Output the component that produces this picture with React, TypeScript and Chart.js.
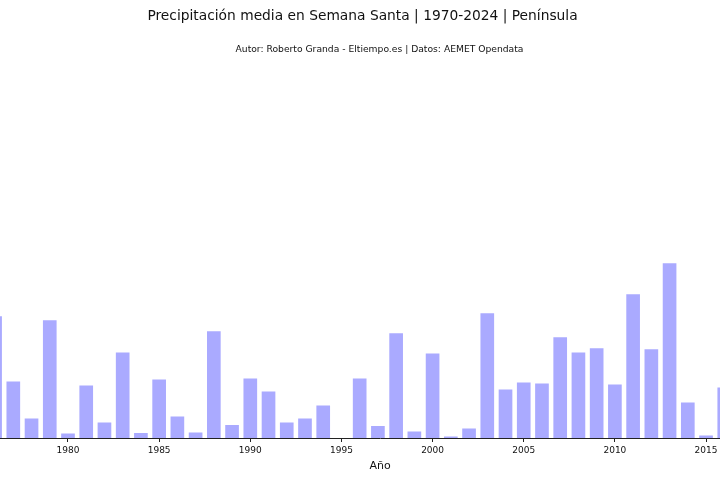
import React, { useEffect, useRef } from "react";
import { Chart, registerables } from "chart.js";

Chart.register(...registerables);

const TITLE = "Precipitación media en Semana Santa | 1970-2024 | Península";
const SUBTITLE = "Autor: Roberto Granda - Eltiempo.es | Datos: AEMET Opendata";
const X_TITLE = "Año";

const years = [
  1976, 1977, 1978, 1979, 1980, 1981, 1982, 1983, 1984, 1985,
  1986, 1987, 1988, 1989, 1990, 1991, 1992, 1993, 1994, 1995,
  1996, 1997, 1998, 1999, 2000, 2001, 2002, 2003, 2004, 2005,
  2006, 2007, 2008, 2009, 2010, 2011, 2012, 2013, 2014, 2015,
  2016,
];

const precipitation = [
  24.3, 11.3, 3.9, 23.5, 0.9, 10.5, 3.1, 17.1, 1.0, 11.7,
  4.3, 1.1, 21.3, 2.6, 11.9, 9.3, 3.1, 3.9, 6.5, 0.0,
  11.9, 2.4, 20.9, 1.3, 16.9, 0.3, 1.9, 24.9, 9.7, 11.1,
  10.9, 20.1, 17.1, 17.9, 10.7, 28.7, 17.7, 34.9, 7.1, 0.5,
  10.1,
];

const tickYears = [1980, 1985, 1990, 1995, 2000, 2005, 2010, 2015];

const FONT = "'DejaVu Sans', sans-serif";

const headerPlugin = {
  id: "header",
  afterDraw(chart: any) {
    const ctx = chart.ctx;
    ctx.save();
    ctx.fillStyle = "#111";
    ctx.textAlign = "center";
    ctx.textBaseline = "alphabetic";
    ctx.font = `13.8px ${FONT}`;
    ctx.fillText(TITLE, 362.5, 20);
    ctx.font = `9.2px ${FONT}`;
    ctx.fillText(SUBTITLE, 379.5, 52);
    ctx.restore();
  },
};

export default function App() {
  const ref = useRef<HTMLCanvasElement | null>(null);

  useEffect(() => {
    if (!ref.current) return;
    const chart = new Chart(ref.current, {
      type: "bar",
      data: {
        datasets: [
          {
            label: "Precipitación",
            data: years.map((y, i) => ({ x: y, y: precipitation[i] })),
            backgroundColor: "#aaaaff",
            borderWidth: 0,
            barPercentage: 0.75,
            categoryPercentage: 1,
          },
        ],
      },
      options: {
        animation: false,
        responsive: true,
        maintainAspectRatio: false,
        layout: { padding: { top: 87.5, bottom: 0, left: 0, right: 0 } },
        plugins: {
          legend: { display: false },
          title: { display: false },
          tooltip: { enabled: false },
        },
        scales: {
          x: {
            type: "linear",
            min: 1976.27,
            max: 2017.96,
            offset: false,
            afterBuildTicks: (scale: any) => {
              scale.ticks = tickYears.map((v) => ({ value: v }));
            },
            ticks: {
              callback: (v: any) => String(v),
              font: { family: FONT, size: 9 },
              color: "#111",
              padding: 3,
              maxRotation: 0,
              autoSkip: false,
            },
            grid: {
              offset: false,
              drawOnChartArea: false,
              drawTicks: true,
              tickLength: 4,
              color: "#222",
            },
            border: { display: true, color: "#222", width: 1 },
            title: {
              display: true,
              text: X_TITLE,
              font: { family: FONT, size: 11 },
              color: "#111",
              padding: { top: 0.5, bottom: 7.5 },
            },
          },
          y: {
            display: false,
            min: 0,
            max: 70,
          },
        },
      },
      plugins: [headerPlugin],
    });
    return () => chart.destroy();
  }, []);

  return (
    <div
      style={{
        position: "absolute",
        left: 0,
        top: 0,
        width: 720,
        height: 480,
        overflow: "hidden",
        background: "#fff",
      }}
    >
      <div style={{ position: "relative", width: 760, height: 480 }}>
        <canvas ref={ref} />
      </div>
    </div>
  );
}
